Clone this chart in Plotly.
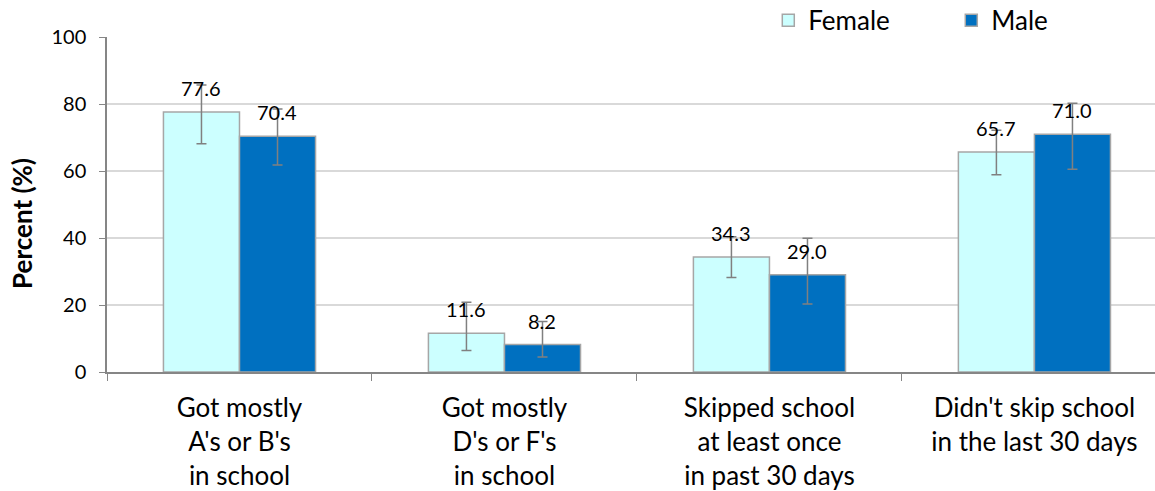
import plotly.graph_objects as go

categories = ["Got mostly<br>A's or B's<br>in school",
              "Got mostly<br>D's or F's<br>in school",
              "Skipped school<br>at least once<br>in past 30 days",
              "Didn't skip school<br>in the last 30 days"]
female = [77.6, 11.6, 34.3, 65.7]
male = [70.4, 8.2, 29.0, 71.0]
female_upper = [85.7, 20.8, 40.4, 72.2]
female_lower = [68.1, 6.4, 28.2, 58.9]
male_upper = [78.5, 15.1, 39.9, 80.2]
male_lower = [61.8, 4.5, 20.3, 60.5]
y_ticks = [0, 20, 40, 60, 80, 100]
y_title = "Percent (%)"

FONT = "Lato"
fig = go.Figure()

def add_series(name, vals, up, lo, color, shift):
    fig.add_trace(go.Bar(
        name=name, x=categories, y=vals,
        marker=dict(color=color, line=dict(color="#A6A6A6", width=1.5)),
        error_y=dict(type="data", symmetric=False,
                     array=[u - v for u, v in zip(up, vals)],
                     arrayminus=[v - l for v, l in zip(vals, lo)],
                     color="#808080", thickness=1.5, width=5),
    ))
    for c, v in zip(categories, vals):
        fig.add_annotation(x=c, y=v, text=f"{v:.1f}", showarrow=False,
                           xshift=shift, yshift=24, yanchor="middle",
                           font=dict(family=FONT, size=20, color="black"))

add_series("Female", female, female_upper, female_lower, "#CCFFFF", -38)
add_series("Male", male, male_upper, male_lower, "#0070C0", 38)

fig.add_annotation(xref="paper", yref="paper", x=0, y=0.442, xshift=-85,
                   text=f"<b>{y_title}</b>", textangle=-90, showarrow=False,
                   xanchor="center", yanchor="middle",
                   font=dict(family=FONT, size=26, color="black"))

fig.update_layout(
    width=1155, height=491,
    margin=dict(l=107, r=0, t=37, b=119, autoexpand=False),
    barmode="group", bargap=0.426, bargroupgap=0,
    plot_bgcolor="white", paper_bgcolor="white",
    font=dict(family=FONT, size=20, color="black"),
    legend=dict(orientation="h", x=0.631, y=1.05, xanchor="left", yanchor="middle",
                font=dict(size=26), entrywidth=138, traceorder="normal",
                bgcolor="rgba(0,0,0,0)"),
    xaxis=dict(range=[-0.5, 3.455], showline=True, linecolor="#868686", linewidth=1.5,
               ticks="outside", tickson="boundaries", ticklen=7, tickcolor="#868686",
               tickfont=dict(size=26), showgrid=False, ticklabelstandoff=12),
    yaxis=dict(range=[0, 100], tickvals=y_ticks, showline=True, linecolor="#868686",
               linewidth=1.5, ticks="outside", ticklen=6, tickcolor="#868686",
               gridcolor="#D9D9D9", gridwidth=1.5, zeroline=False, ticklabelstandoff=9,
               tickfont=dict(size=20)),
)
fig.write_html("out.html", config={"displayModeBar": False},
               post_script="document.body.style.margin='0';")
